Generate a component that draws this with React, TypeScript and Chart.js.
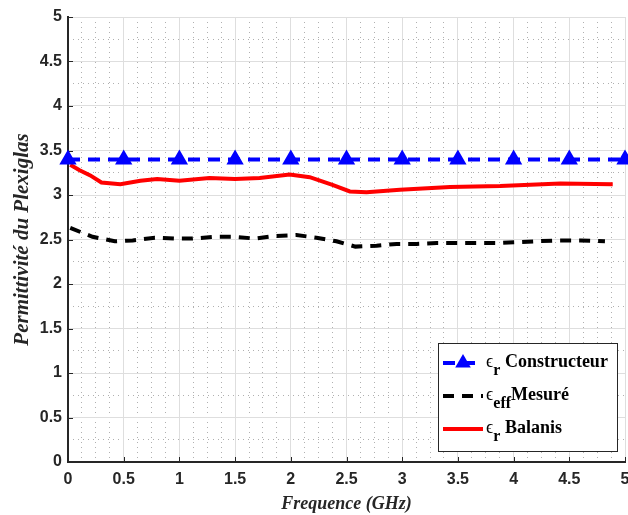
import React, { useEffect, useRef } from 'react';
import { Chart, registerables } from 'chart.js';

Chart.register(...registerables);

// ---- Data ----
const xTickValues = [0, 0.5, 1, 1.5, 2, 2.5, 3, 3.5, 4, 4.5, 5];
const xTickLabels = ['0', '0.5', '1', '1.5', '2', '2.5', '3', '3.5', '4', '4.5', '5'];
const yTickValues = [0, 0.5, 1, 1.5, 2, 2.5, 3, 3.5, 4, 4.5, 5];
const yTickLabels = ['0', '0.5', '1', '1.5', '2', '2.5', '3', '3.5', '4', '4.5', '5'];

const freqConstructeur = [0, 0.5, 1, 1.5, 2, 2.5, 3, 3.5, 4, 4.5, 5];
const epsConstructeur = [3.4, 3.4, 3.4, 3.4, 3.4, 3.4, 3.4, 3.4, 3.4, 3.4, 3.4];

const freqMesure = [0.02, 0.22, 0.42, 0.58, 0.78, 0.96, 1.12, 1.32, 1.5, 1.68, 1.86, 2.05, 2.23, 2.41, 2.58, 2.77, 2.95, 3.13, 3.31, 3.49, 3.68, 3.85, 4.04, 4.21, 4.4, 4.6, 4.82];
const epsMesure = [2.63, 2.53, 2.48, 2.49, 2.52, 2.51, 2.51, 2.53, 2.53, 2.51, 2.54, 2.55, 2.52, 2.48, 2.42, 2.43, 2.45, 2.45, 2.46, 2.46, 2.46, 2.46, 2.47, 2.48, 2.49, 2.49, 2.48];

const freqBalanis = [0.02, 0.1, 0.2, 0.3, 0.47, 0.65, 0.8, 1.0, 1.27, 1.5, 1.72, 1.99, 2.17, 2.38, 2.53, 2.68, 2.98, 3.43, 3.88, 4.42, 4.89];
const epsBalanis = [3.34, 3.28, 3.22, 3.14, 3.12, 3.16, 3.18, 3.16, 3.19, 3.18, 3.19, 3.23, 3.2, 3.11, 3.04, 3.03, 3.06, 3.09, 3.1, 3.13, 3.12];

const legendSymbols = ['ϵ', 'ϵ', 'ϵ'];
const legendSubs = ['r', 'eff', 'r'];
const legendTexts = [' Constructeur', 'Mesuré', ' Balanis'];

const xTitle = 'Frequence (GHz)';
const yTitle = 'Permittivité du Plexiglas';

const SERIF = '"Liberation Serif", "DejaVu Serif", serif';
const SANS = '"Liberation Sans", Arial, sans-serif';

const pts = (xs: number[], ys: number[]) => xs.map((x, i) => ({ x, y: ys[i] }));

const overlayPlugin = {
  id: 'overlay',
  beforeDatasetsDraw(chart: any) {
    const { ctx, chartArea, scales } = chart;
    ctx.save();
    ctx.strokeStyle = '#262626';
    ctx.lineWidth = 1;
    ctx.beginPath();
    scales.x.ticks.forEach((t: any) => {
      const px = Math.round(scales.x.getPixelForValue(t.value)) + 0.5;
      ctx.moveTo(px, chartArea.bottom);
      ctx.lineTo(px, chartArea.bottom - 5);
    });
    scales.y.ticks.forEach((t: any) => {
      const py = Math.round(scales.y.getPixelForValue(t.value)) + 0.5;
      ctx.moveTo(chartArea.left, py);
      ctx.lineTo(chartArea.left + 5, py);
    });
    ctx.stroke();
    ctx.restore();
  },
  afterDraw(chart: any) {
    const { ctx, chartArea } = chart;
    const right = chartArea.right - 8;
    const bottom = chartArea.bottom - 11;
    const w = 179;
    const h = 108;
    const left = right - w;
    const top = bottom - h;
    ctx.save();
    ctx.fillStyle = '#ffffff';
    ctx.fillRect(left, top, w, h);
    ctx.strokeStyle = '#262626';
    ctx.lineWidth = 1;
    ctx.strokeRect(Math.round(left) + 0.5, Math.round(top) + 0.5, w, h);
    const baselines = [24, 57, 90];
    chart.data.datasets.forEach((ds: any, i: number) => {
      const base = top + baselines[i];
      const ly = base - 4;
      ctx.save();
      ctx.strokeStyle = ds.borderColor;
      ctx.lineWidth = ds.borderWidth;
      ctx.setLineDash(ds.borderDash || []);
      ctx.beginPath();
      ctx.moveTo(left + 5, ly);
      ctx.lineTo(left + 45, ly);
      ctx.stroke();
      ctx.restore();
      if (ds.pointStyle === 'triangle') {
        const r = ds.pointRadius + 1;
        const cx = left + 25;
        ctx.fillStyle = ds.pointBackgroundColor;
        ctx.beginPath();
        ctx.moveTo(cx, ly - r);
        ctx.lineTo(cx + r * 0.866, ly + r / 2);
        ctx.lineTo(cx - r * 0.866, ly + r / 2);
        ctx.closePath();
        ctx.fill();
      }
      ctx.fillStyle = '#000000';
      ctx.textBaseline = 'alphabetic';
      ctx.textAlign = 'left';
      let x = left + 48;
      ctx.font = `18px ${SERIF}`;
      ctx.fillText(legendSymbols[i], x, base);
      x += ctx.measureText(legendSymbols[i]).width;
      ctx.font = `bold 16px ${SERIF}`;
      ctx.fillText(legendSubs[i], x, base + 8);
      x += ctx.measureText(legendSubs[i]).width;
      ctx.font = `bold 18px ${SERIF}`;
      ctx.fillText(legendTexts[i], x, base);
    });
    ctx.restore();
  },
};

export default function App() {
  const ref = useRef<HTMLCanvasElement>(null);
  useEffect(() => {
    if (!ref.current) return;
    const notMajor = (s: any) => {
      s.ticks = s.ticks.filter((t: any) => Math.abs(t.value * 2 - Math.round(t.value * 2)) > 1e-6);
    };
    const chart = new Chart(ref.current, {
      type: 'line',
      data: {
        datasets: [
          {
            label: 'Constructeur',
            data: pts(freqConstructeur, epsConstructeur),
            borderColor: '#0000ff',
            backgroundColor: '#0000ff',
            borderWidth: 4,
            borderDash: [12, 8],
            pointStyle: 'triangle',
            pointRadius: 8,
            pointBorderWidth: 2,
            pointBackgroundColor: '#0000ff',
            pointBorderColor: '#0000ff',
            clip: false,
            tension: 0,
          } as any,
          {
            label: 'Mesuré',
            data: pts(freqMesure, epsMesure),
            borderColor: '#000000',
            backgroundColor: '#000000',
            borderWidth: 4,
            borderDash: [11, 8],
            pointRadius: 0,
            tension: 0,
          },
          {
            label: 'Balanis',
            data: pts(freqBalanis, epsBalanis),
            borderColor: '#ff0000',
            backgroundColor: '#ff0000',
            borderWidth: 4,
            pointRadius: 0,
            tension: 0,
          },
        ],
      },
      options: {
        responsive: false,
        animation: false,
        devicePixelRatio: 1,
        layout: { autoPadding: false, padding: { top: 17, right: 3, left: 0, bottom: 0 } },
        plugins: { legend: { display: false }, tooltip: { enabled: false } },
        scales: {
          x2: {
            type: 'linear',
            axis: 'x',
            position: 'bottom',
            min: 0,
            max: 5,
            ticks: { display: false, stepSize: 0.125 },
            afterBuildTicks: notMajor,
            afterFit: (s: any) => { s.height = 0; s.paddingLeft = 0; s.paddingRight = 0; s.paddingTop = 0; s.paddingBottom = 0; },
            grid: { color: '#b0b0b0', lineWidth: 1, drawTicks: false, z: -1 },
            border: { display: false, dash: [1, 4] },
          } as any,
          y2: {
            type: 'linear',
            axis: 'y',
            position: 'left',
            min: 0,
            max: 5,
            ticks: { display: false, stepSize: 0.25 },
            afterBuildTicks: notMajor,
            afterFit: (s: any) => { s.width = 0; s.paddingLeft = 0; s.paddingRight = 0; s.paddingTop = 0; s.paddingBottom = 0; },
            grid: { color: '#b0b0b0', lineWidth: 1, drawTicks: false, z: -1 },
            border: { display: false, dash: [1, 4] },
          } as any,
          x: {
            type: 'linear',
            position: 'bottom',
            min: 0,
            max: 5,
            afterBuildTicks: (s: any) => { s.ticks = xTickValues.map((v) => ({ value: v })); },
            afterFit: (s: any) => { s.height = 53; s.paddingLeft = 0; s.paddingRight = 0; },
            ticks: {
              callback: (v: any) => xTickLabels[xTickValues.indexOf(Number(v))],
              font: { family: SANS, size: 16, weight: 'bold' },
              color: '#262626',
              padding: 8,
              maxRotation: 0,
              autoSkip: false,
            },
            grid: { color: '#dedede', lineWidth: 1, drawTicks: false },
            border: { color: '#262626', width: 2 },
            title: {
              display: true,
              text: xTitle,
              font: { family: SERIF, size: 18, style: 'italic', weight: 'bold' },
              color: '#262626',
              padding: { top: 0, bottom: 0 },
            },
          } as any,
          y: {
            type: 'linear',
            position: 'left',
            min: 0,
            max: 5,
            afterBuildTicks: (s: any) => { s.ticks = yTickValues.map((v) => ({ value: v })); },
            afterFit: (s: any) => { s.width = 68; s.paddingTop = 0; s.paddingBottom = 0; },
            ticks: {
              callback: (v: any) => yTickLabels[yTickValues.indexOf(Number(v))],
              font: { family: SANS, size: 16, weight: 'bold' },
              color: '#262626',
              padding: 6,
              autoSkip: false,
            },
            grid: { color: '#dedede', lineWidth: 1, drawTicks: false },
            border: { color: '#262626', width: 2 },
            title: {
              display: true,
              text: yTitle,
              font: { family: SERIF, size: 21, style: 'italic', weight: 'bold' },
              color: '#262626',
              padding: { top: 10, bottom: 0 },
            },
          } as any,
        },
      },
      plugins: [overlayPlugin],
    });
    return () => chart.destroy();
  }, []);
  return (
    <div style={{ position: 'fixed', left: 0, top: 0, width: 628, height: 515, background: '#ffffff' }}>
      <canvas ref={ref} width={628} height={515} style={{ display: 'block' }} />
    </div>
  );
}
